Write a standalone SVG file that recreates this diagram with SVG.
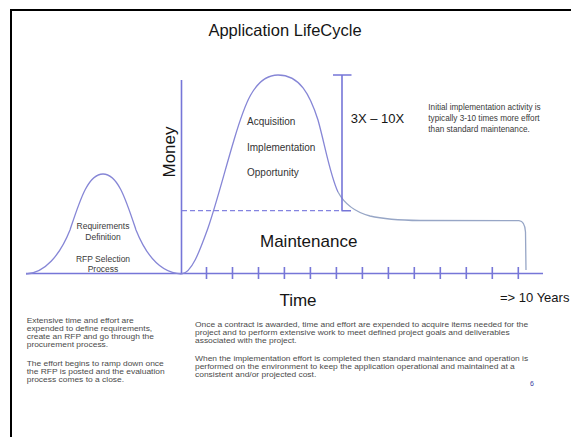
<svg xmlns="http://www.w3.org/2000/svg" width="571" height="437" viewBox="0 0 571 437">
  <style>
    text { font-family: "Liberation Sans", Arial, sans-serif; }
    .axis { stroke: #7676d8; stroke-width: 1.6; fill: none; }
    .curve { stroke: #8686d6; stroke-width: 1.3; fill: none; }
    .tail { stroke: #97a6c6; stroke-width: 1.3; fill: none; }
    .dash { stroke: #8484e0; stroke-width: 1.3; stroke-dasharray: 5 3; fill: none; }
    .title { font-size: 16.5px; fill: #151515; }
    .big { font-size: 17px; fill: #151515; }
    .phase { font-size: 10px; fill: #333; }
    .small { font-size: 8.5px; fill: #3a3a3a; }
    .note { font-size: 8.2px; fill: #3a3a3a; }
    .para { font-size: 7.4px; fill: #4a4a4a; }
  </style>

  <rect width="571" height="437" fill="#ffffff"/>
  <!-- page frame -->
  <path d="M11,437 V10 H571" stroke="#000" stroke-width="2" fill="none"/>

  <text class="title" x="285" y="36" text-anchor="middle">Application LifeCycle</text>

  <!-- axes and ticks -->
  <g id="axes">
    <path class="axis" d="M26,273.5 H543 M181.5,80 V273.5"/>
    <path class="axis" d="M206.5,267V279 M232.5,267V279 M258.5,267V279 M284.4,267V279 M310.4,267V279 M336.4,267V279 M362.4,267V279 M388.4,267V279 M414.3,267V279 M440.3,267V279 M466.3,267V279 M492.3,267V279 M518.3,267V279"/>
    <text class="big" transform="translate(175,152) rotate(-90)" text-anchor="middle" font-size="18">Money</text>
    <text class="big" x="298" y="306" text-anchor="middle">Time</text>
    <text x="500" y="302" font-size="13" fill="#151515">=&gt; 10 Years</text>
  </g>

  <!-- cost curves -->
  <g id="curves">
    <!-- requirements / RFP bump -->
    <path id="rfp-curve" class="curve" d="M26,274 C45,273 60,255 70,230 C80,200 88,174 103,174 C118,174 126,200 136,230 C146,255 161,273 181.5,274"/>
    <!-- acquisition / implementation peak -->
    <path id="impl-curve" class="curve" d="M181.5,274 C192,273 200,250 208,228 C216,205 225,170 234,140 C243,110 253,75 278,75 C300,75 310,95 318,120 C325,145 330,175 338,192"/>
    <!-- maintenance tail -->
    <path id="maint-curve" class="tail" d="M338,192 C345,205 355,212 370,216 C385,219.5 400,220.3 420,220.5 L519,220.7 C523,221 525,224 525.5,232 L526,270"/>
    <!-- maintenance level and the 3X-10X span -->
    <path class="dash" d="M182,210.7 H341"/>
    <path class="axis" d="M341.5,210.7 H351 M333,75 H351.5 M342,75 V210.7"/>
  </g>

  <g id="labels">
    <text class="small" x="103" y="229" text-anchor="middle">Requirements</text>
    <text class="small" x="103" y="240" text-anchor="middle">Definition</text>
    <text class="small" x="103" y="262" text-anchor="middle">RFP Selection</text>
    <text class="small" x="103" y="272" text-anchor="middle">Process</text>

    <text class="phase" x="247" y="125">Acquisition</text>
    <text class="phase" x="247" y="150.5">Implementation</text>
    <text class="phase" x="247" y="176">Opportunity</text>

    <text x="350.7" y="122.5" font-size="13" fill="#151515">3X – 10X</text>

    <text class="note" x="428.3" y="109.5">Initial implementation activity is</text>
    <text class="note" x="428.3" y="120.5">typically 3-10 times more effort</text>
    <text class="note" x="428.3" y="131.5">than standard maintenance.</text>

    <text class="big" x="260" y="246.5">Maintenance</text>
  </g>

  <!-- explanatory paragraphs, set slightly wide -->
  <g id="notes">
    <g transform="translate(26.7,0) scale(1.14,1)">
      <text class="para" x="0" y="323">Extensive time and effort are</text>
      <text class="para" x="0" y="331">expended to define requirements,</text>
      <text class="para" x="0" y="339">create an RFP and go through the</text>
      <text class="para" x="0" y="347">procurement process.</text>
      <text class="para" x="0" y="366">The effort begins to ramp down once</text>
      <text class="para" x="0" y="374">the RFP is posted and the evaluation</text>
      <text class="para" x="0" y="382">process comes to a close.</text>
    </g>
    <g transform="translate(195,0) scale(1.14,1)">
      <text class="para" x="0" y="327">Once a contract is awarded,  time and effort are expended to acquire items needed for the</text>
      <text class="para" x="0" y="335">project and to perform extensive work to meet defined project goals and deliverables</text>
      <text class="para" x="0" y="343">associated with the project.</text>
      <text class="para" x="0" y="361">When the implementation effort is completed then standard maintenance and operation is</text>
      <text class="para" x="0" y="369">performed on the environment to keep the application operational and maintained at a</text>
      <text class="para" x="0" y="377">consistent and/or projected cost.</text>
    </g>
    <text x="532" y="386" font-size="7" fill="#3a3aa0" text-anchor="middle">6</text>
  </g>
</svg>
